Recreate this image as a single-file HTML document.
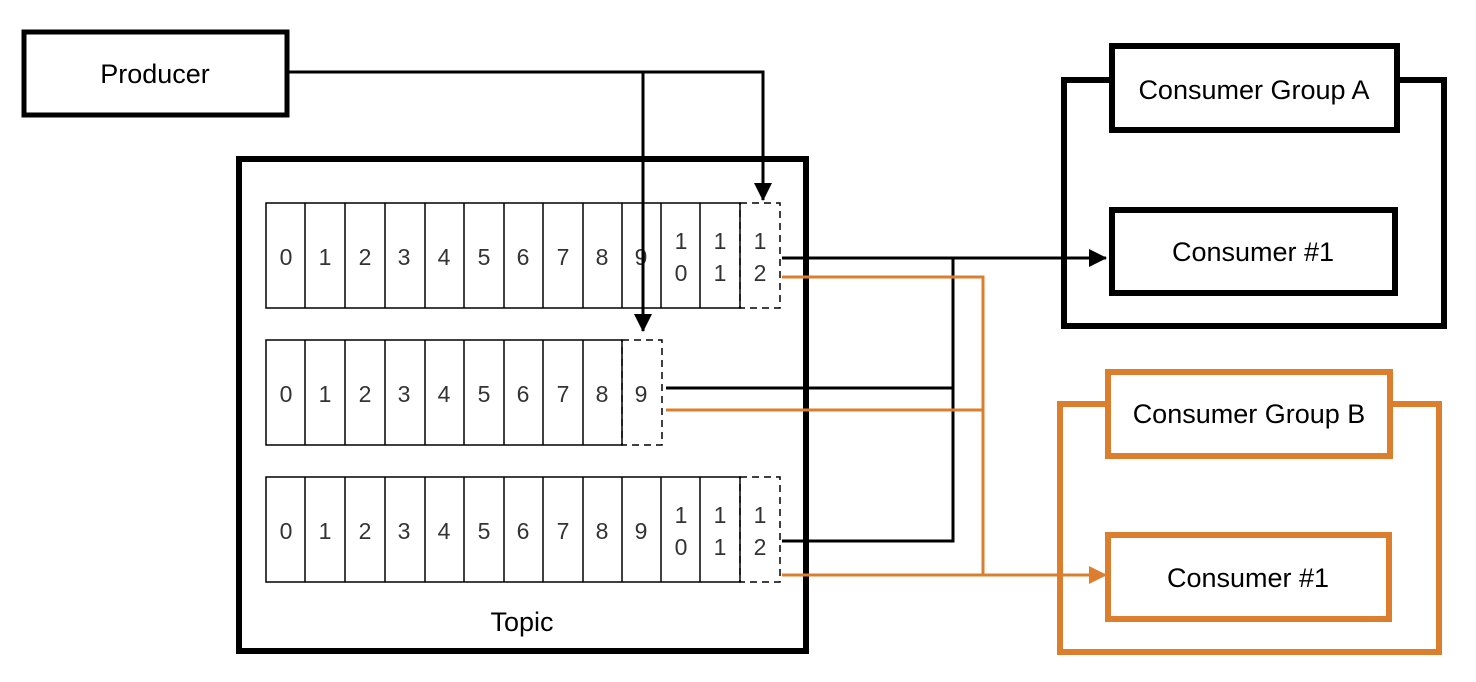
<!DOCTYPE html>
<html><head><style>body{margin:0;background:#fff}</style></head><body>
<svg width="1476" height="677" xmlns="http://www.w3.org/2000/svg" font-family="Liberation Sans, sans-serif">
<defs>
<marker id="abig" markerWidth="18" markerHeight="18" refX="17" refY="9" orient="auto" markerUnits="userSpaceOnUse" viewBox="0 0 18 18"><path d="M0,0L18,9L0,18z" fill="#000"/></marker>
<marker id="aobig" markerWidth="18" markerHeight="18" refX="17" refY="9" orient="auto" markerUnits="userSpaceOnUse" viewBox="0 0 18 18"><path d="M0,0L18,9L0,18z" fill="#db7f2e"/></marker>
</defs>
<rect x="24" y="32" width="263" height="83" fill="none" stroke="#000" stroke-width="5"/>
<text x="155" y="83" font-size="27" text-anchor="middle">Producer</text>
<rect x="239" y="159" width="567" height="492" fill="none" stroke="#000" stroke-width="6"/>
<text x="522" y="631" font-size="27" text-anchor="middle">Topic</text>
<g stroke="#000" stroke-width="1.5" fill="none">
<rect x="266" y="203" width="474" height="105"/>
<rect x="266" y="340" width="356" height="105"/>
<rect x="266" y="477" width="474" height="105"/>
</g>
<g stroke="#000" stroke-width="1.5">
<line x1="305" y1="203" x2="305" y2="308"/><line x1="345" y1="203" x2="345" y2="308"/><line x1="385" y1="203" x2="385" y2="308"/><line x1="425" y1="203" x2="425" y2="308"/><line x1="464" y1="203" x2="464" y2="308"/><line x1="504" y1="203" x2="504" y2="308"/><line x1="543" y1="203" x2="543" y2="308"/><line x1="583" y1="203" x2="583" y2="308"/><line x1="622" y1="203" x2="622" y2="308"/><line x1="661" y1="203" x2="661" y2="308"/><line x1="700" y1="203" x2="700" y2="308"/>
<line x1="305" y1="340" x2="305" y2="445"/><line x1="345" y1="340" x2="345" y2="445"/><line x1="385" y1="340" x2="385" y2="445"/><line x1="425" y1="340" x2="425" y2="445"/><line x1="464" y1="340" x2="464" y2="445"/><line x1="504" y1="340" x2="504" y2="445"/><line x1="543" y1="340" x2="543" y2="445"/><line x1="583" y1="340" x2="583" y2="445"/>
<line x1="305" y1="477" x2="305" y2="582"/><line x1="345" y1="477" x2="345" y2="582"/><line x1="385" y1="477" x2="385" y2="582"/><line x1="425" y1="477" x2="425" y2="582"/><line x1="464" y1="477" x2="464" y2="582"/><line x1="504" y1="477" x2="504" y2="582"/><line x1="543" y1="477" x2="543" y2="582"/><line x1="583" y1="477" x2="583" y2="582"/><line x1="622" y1="477" x2="622" y2="582"/><line x1="661" y1="477" x2="661" y2="582"/><line x1="700" y1="477" x2="700" y2="582"/>
</g>
<g stroke="#000" stroke-width="1.5" fill="none" stroke-dasharray="7,5">
<rect x="740" y="203" width="40" height="105"/>
<rect x="622" y="340" width="40" height="105"/>
<rect x="740" y="477" width="40" height="105"/>
</g>
<g font-size="23" fill="#333" text-anchor="middle">
<text x="286" y="265">0</text><text x="325" y="265">1</text><text x="365" y="265">2</text><text x="404" y="265">3</text><text x="444" y="265">4</text><text x="484" y="265">5</text><text x="523" y="265">6</text><text x="563" y="265">7</text><text x="602" y="265">8</text><text x="641" y="265">9</text>
<text x="681" y="249">1</text><text x="681" y="281">0</text><text x="720" y="249">1</text><text x="720" y="281">1</text><text x="760" y="249">1</text><text x="760" y="281">2</text>
<text x="286" y="402">0</text><text x="325" y="402">1</text><text x="365" y="402">2</text><text x="404" y="402">3</text><text x="444" y="402">4</text><text x="484" y="402">5</text><text x="523" y="402">6</text><text x="563" y="402">7</text><text x="602" y="402">8</text><text x="641" y="402">9</text>
<text x="286" y="539">0</text><text x="325" y="539">1</text><text x="365" y="539">2</text><text x="404" y="539">3</text><text x="444" y="539">4</text><text x="484" y="539">5</text><text x="523" y="539">6</text><text x="563" y="539">7</text><text x="602" y="539">8</text><text x="641" y="539">9</text>
<text x="681" y="523">1</text><text x="681" y="555">0</text><text x="720" y="523">1</text><text x="720" y="555">1</text><text x="760" y="523">1</text><text x="760" y="555">2</text>
</g>
<g stroke="#000" stroke-width="3" fill="none">
<polyline points="288,72 763,72 763,200" marker-end="url(#abig)"/>
<polyline points="643,72 643,331" marker-end="url(#abig)"/>
</g>
<g stroke="#000" stroke-width="3" fill="none">
<polyline points="782,258 1106,258" marker-end="url(#abig)"/>
<polyline points="953,258 953,541 782,541"/>
<polyline points="666,388 953,388"/>
</g>
<g stroke="#db7f2e" stroke-width="3" fill="none">
<polyline points="782,277 983,277 983,575"/>
<polyline points="666,410 983,410"/>
<polyline points="782,575 1106,575" marker-end="url(#aobig)"/>
</g>
<rect x="1064" y="80" width="380" height="246" fill="none" stroke="#000" stroke-width="6"/>
<rect x="1112" y="46" width="285" height="84" fill="#fff" stroke="#000" stroke-width="6"/>
<text x="1254" y="99" font-size="27" text-anchor="middle">Consumer Group A</text>
<rect x="1112" y="210" width="283" height="83" fill="#fff" stroke="#000" stroke-width="6"/>
<text x="1253" y="261" font-size="27" text-anchor="middle">Consumer #1</text>
<rect x="1060" y="404" width="379" height="248" fill="none" stroke="#db7f2e" stroke-width="6"/>
<rect x="1108" y="372" width="282" height="84" fill="#fff" stroke="#db7f2e" stroke-width="6"/>
<text x="1249" y="423" font-size="27" text-anchor="middle">Consumer Group B</text>
<rect x="1108" y="535" width="281" height="84" fill="#fff" stroke="#db7f2e" stroke-width="6"/>
<text x="1248" y="587" font-size="27" text-anchor="middle">Consumer #1</text>
</svg>
</body></html>
